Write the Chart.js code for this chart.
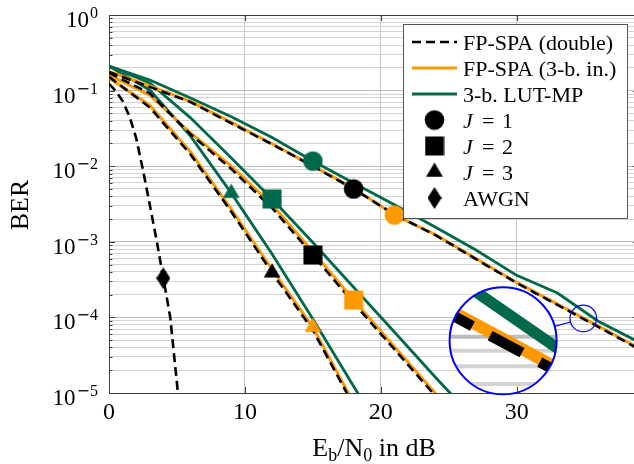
<!DOCTYPE html>
<html>
<head>
<meta charset="utf-8">
<script src="https://cdn.jsdelivr.net/npm/chart.js@4.4.1/dist/chart.umd.min.js"></script>
<style>
html, body { margin: 0; padding: 0; background: #fff; overflow: hidden; width: 634px; height: 464px; }
canvas { display: block; }
</style>
</head>
<body>
<canvas id="berChart" width="640" height="464"></canvas>
<script>
// Eb/N0 grid (dB) of the decoder curves and of the AWGN reference
var snr = [0, 3, 6, 9, 12, 15, 18, 21, 24, 27, 30, 33, 36, 39];
var snrAwgn = [0, 0.5, 1, 1.5, 2, 2.5, 3, 3.5, 4, 4.5, 5, 5.5];

// BER
var berDoubleJ1 = [0.176, 0.112, 0.0705, 0.037, 0.0195, 0.0100, 0.0050, 0.0023, 0.00123, 5.9e-4, 2.85e-4, 1.46e-4, 7.5e-5, 3.8e-5];
var berQuantJ1 = [0.179, 0.115, 0.072, 0.038, 0.0198, 0.0101, 0.0051, 0.00226, 0.00125, 6.0e-4, 2.9e-4, 1.5e-4, 7.7e-5, 3.9e-5];
var berLutJ1 = [0.211, 0.138, 0.080, 0.045, 0.0239, 0.0117, 0.0060, 0.0031, 0.00157, 7.8e-4, 3.6e-4, 2.1e-4, 8.9e-5, 4.7e-5];

var berDoubleJ2 = [0.172, 0.092, 0.0265, 0.0092, 0.0028, 6.7e-4, 1.55e-4, 3.8e-5, 9.2e-6, 2.2e-6];
var berQuantJ2 = [0.16, 0.087, 0.0275, 0.0100, 0.0031, 7.4e-4, 1.7e-4, 4.1e-5, 1.0e-5, 2.5e-6];
var berLutJ2 = [0.211, 0.126, 0.0436, 0.0128, 0.00368, 9.8e-4, 2.5e-4, 6.4e-5, 1.63e-5, 4.3e-6];

var berDoubleJ3 = [0.152, 0.060, 0.0143, 0.0025, 3.9e-4, 6.8e-5, 6.8e-6, 8e-7];
var berQuantJ3 = [0.147, 0.064, 0.0154, 0.0027, 4.3e-4, 7.4e-5, 7.4e-6, 9e-7];
var berLutJ3 = [0.211, 0.102, 0.025, 0.0044, 6.9e-4, 9.5e-5, 1.23e-5, 1.6e-6];

var berAwgn = [0.123, 0.099, 0.073, 0.046, 0.0236, 0.0089, 0.0031, 0.00105, 3.3e-4, 1.02e-4, 1.35e-5, 1.5e-6];

// index of the point that carries the marker on each curve
var markAt = { lutJ1: 5, doubleJ1: 6, quantJ1: 7, lutJ2: 4, doubleJ2: 5, quantJ2: 6, lutJ3: 3, doubleJ3: 4, quantJ3: 5, awgn: 8 };

var xTicks = [0, 10, 20, 30];
var yTickExponents = [0, -1, -2, -3, -4, -5];
var yTitle = 'BER';
var xTitleParts = [['E', false], ['b', true], ['/N', false], ['0', true], [' in dB', false]];
var legendLabels = ['FP-SPA (double)', 'FP-SPA (3-b. in.)', '3-b. LUT-MP', 'J = 1', 'J = 2', 'J = 3', 'AWGN'];

// magnifier: source spot and where the enlarged view goes (data coords)
var spySrc = { x: 34.9, y: 9.7e-5 };
var spyDst = { x: 29, y: 4.9e-5 };
var spySmallR = 13.3, spyBigR = 53.5;

var black = '#000000', orange = '#ff9900', green = '#00694b', spyBlue = '#0000ff';
var serif = '"Liberation Serif", "Times New Roman", serif';
var widths = { dashed: 2.6, orange: 3.0, green: 2.8 };
var dash = [9, 5];

function makeMarker(shape, color) {
    var c = document.createElement('canvas');
    var w = 20, h = 20;
    if (shape === 'diamond') { w = 14; h = 22; }
    if (shape === 'circle') { w = 21; h = 21; }
    c.width = w; c.height = h;
    var g = c.getContext('2d');
    g.fillStyle = color;
    g.beginPath();
    if (shape === 'circle') {
        g.arc(w / 2, h / 2, 9.8, 0, Math.PI * 2);
    } else if (shape === 'square') {
        g.rect(0.5, 0.5, 19, 19);
    } else if (shape === 'triangle') {
        g.moveTo(10, 0.4);
        g.lineTo(18.4, 14.8);
        g.lineTo(1.6, 14.8);
    } else {
        g.moveTo(7, 0);
        g.lineTo(14, 11);
        g.lineTo(7, 22);
        g.lineTo(0, 11);
    }
    g.closePath();
    g.fill();
    return c;
}

var markers = {};
['circle', 'square', 'triangle', 'diamond'].forEach(function (s) {
    markers[s] = { black: makeMarker(s, black), orange: makeMarker(s, orange), green: makeMarker(s, green) };
});

function toPoints(xs, ys) {
    return ys.map(function (y, i) { return { x: xs[i], y: y }; });
}

function lineSet(xs, ys, color, width, dashed, order) {
    return {
        data: toPoints(xs, ys),
        borderColor: color,
        borderWidth: width,
        borderDash: dashed ? dash : [],
        pointRadius: 0,
        tension: 0,
        fill: false,
        order: order
    };
}

function markerSet(xs, ys, idx, marker) {
    return {
        data: toPoints(xs, ys),
        showLine: false,
        pointStyle: marker,
        pointRadius: function (ctx) { return ctx.dataIndex === idx ? 10 : 0; },
        order: 0
    };
}

var datasets = [
    markerSet(snr, berLutJ1, markAt.lutJ1, markers.circle.green),
    markerSet(snr, berDoubleJ1, markAt.doubleJ1, markers.circle.black),
    markerSet(snr, berQuantJ1, markAt.quantJ1, markers.circle.orange),
    markerSet(snr, berLutJ2, markAt.lutJ2, markers.square.green),
    markerSet(snr, berDoubleJ2, markAt.doubleJ2, markers.square.black),
    markerSet(snr, berQuantJ2, markAt.quantJ2, markers.square.orange),
    markerSet(snr, berLutJ3, markAt.lutJ3, markers.triangle.green),
    markerSet(snr, berDoubleJ3, markAt.doubleJ3, markers.triangle.black),
    markerSet(snr, berQuantJ3, markAt.quantJ3, markers.triangle.orange),
    markerSet(snrAwgn, berAwgn, markAt.awgn, markers.diamond.black),
    lineSet(snr, berDoubleJ1, black, widths.dashed, true, 1),
    lineSet(snr, berDoubleJ2, black, widths.dashed, true, 1),
    lineSet(snr, berDoubleJ3, black, widths.dashed, true, 1),
    lineSet(snrAwgn, berAwgn, black, widths.dashed, true, 1),
    lineSet(snr, berQuantJ1, orange, widths.orange, false, 2),
    lineSet(snr, berQuantJ2, orange, widths.orange, false, 2),
    lineSet(snr, berQuantJ3, orange, widths.orange, false, 2),
    lineSet(snr, berLutJ1, green, widths.green, false, 3),
    lineSet(snr, berLutJ2, green, widths.green, false, 3),
    lineSet(snr, berLutJ3, green, widths.green, false, 3)
];

var yGrid = [];
for (var e = -5; e < 0; e++) {
    for (var m = 1; m < 10; m++) {
        yGrid.push(m * Math.pow(10, e));
    }
}
yGrid.push(1);

function isDecade(v) {
    var l = Math.log10(v);
    return Math.abs(l - Math.round(l)) < 1e-9;
}

function gridColor(major) {
    return major ? '#bdbdbd' : '#d3d3d3';
}

function drawMagnifier(chart) {
    var ctx = chart.ctx, xs = chart.scales.x, ys = chart.scales.y;
    var sx = xs.getPixelForValue(spySrc.x), sy = ys.getPixelForValue(spySrc.y);
    var bx = xs.getPixelForValue(spyDst.x), by = ys.getPixelForValue(spyDst.y);
    var k = spyBigR / spySmallR;
    ctx.save();
    ctx.beginPath();
    ctx.arc(bx, by, spyBigR, 0, Math.PI * 2);
    ctx.fillStyle = '#fff';
    ctx.fill();
    ctx.clip();
    ctx.translate(bx, by);
    ctx.scale(k, k);
    ctx.translate(-sx, -sy);
    ctx.lineWidth = 1;
    yGrid.forEach(function (v) {
        var py = ys.getPixelForValue(v);
        ctx.strokeStyle = gridColor(isDecade(v));
        ctx.beginPath();
        ctx.moveTo(sx - 20, py);
        ctx.lineTo(sx + 20, py);
        ctx.stroke();
    });
    var metas = chart.getSortedVisibleDatasetMetas();
    for (var i = metas.length - 1; i >= 0; i--) {
        var ds = chart.data.datasets[metas[i].index];
        if (ds.showLine === false) continue;
        ctx.strokeStyle = ds.borderColor;
        ctx.lineWidth = ds.borderWidth;
        ctx.setLineDash(ds.borderDash);
        ctx.beginPath();
        metas[i].data.forEach(function (p, j) {
            if (j === 0) ctx.moveTo(p.x, p.y); else ctx.lineTo(p.x, p.y);
        });
        ctx.stroke();
    }
    ctx.restore();

    ctx.save();
    ctx.strokeStyle = spyBlue;
    ctx.lineWidth = 2;
    ctx.beginPath();
    ctx.arc(bx, by, spyBigR, 0, Math.PI * 2);
    ctx.stroke();
    ctx.lineWidth = 1.2;
    ctx.beginPath();
    ctx.arc(sx, sy, spySmallR, 0, Math.PI * 2);
    ctx.stroke();
    var dx = sx - bx, dy = sy - by, d = Math.sqrt(dx * dx + dy * dy);
    ctx.beginPath();
    ctx.moveTo(bx + dx / d * spyBigR, by + dy / d * spyBigR);
    ctx.lineTo(sx - dx / d * spySmallR, sy - dy / d * spySmallR);
    ctx.stroke();
    ctx.restore();
}

function drawPowerLabel(ctx, exp, rightX, py) {
    var supText = exp === 0 ? '0' : String(-exp);
    ctx.font = '23px ' + serif;
    var wBase = ctx.measureText('10').width;
    var wMinus = 0;
    if (exp < 0) {
        ctx.font = '16px "DejaVu Sans"';
        wMinus = ctx.measureText('\u2212').width;
    }
    ctx.font = '16px ' + serif;
    var wSup = ctx.measureText(supText).width;
    var x = rightX - wBase - 1 - wMinus - wSup;
    ctx.font = '23px ' + serif;
    ctx.fillText('10', x, py + 12);
    x += wBase + 1;
    if (exp < 0) {
        ctx.font = '16px "DejaVu Sans"';
        ctx.fillText('\u2212', x, py + 3);
        x += wMinus;
    }
    ctx.font = '16px ' + serif;
    ctx.fillText(supText, x, py + 3);
}

function drawLegend(ctx) {
    var left = 403.5, top = 24.5, w = 224, h = 194;
    ctx.save();
    ctx.fillStyle = '#fff';
    ctx.fillRect(left, top, w, h);
    ctx.strokeStyle = '#555';
    ctx.lineWidth = 1;
    ctx.strokeRect(left, top, w, h);
    var lineStyles = [[black, widths.dashed, true], [orange, widths.orange, false], [green, widths.green, false]];
    var shapes = ['circle', 'square', 'triangle', 'diamond'];
    legendLabels.forEach(function (label, i) {
        var ry = 42 + i * 26;
        if (i < 3) {
            ctx.strokeStyle = lineStyles[i][0];
            ctx.lineWidth = lineStyles[i][1];
            ctx.setLineDash(lineStyles[i][2] ? dash : []);
            ctx.beginPath();
            ctx.moveTo(412, ry);
            ctx.lineTo(457, ry);
            ctx.stroke();
            ctx.setLineDash([]);
        } else {
            var mk = markers[shapes[i - 3]].black;
            ctx.drawImage(mk, 434.5 - mk.width / 2, ry - mk.height / 2);
        }
        ctx.fillStyle = '#000';
        ctx.textAlign = 'left';
        ctx.textBaseline = 'alphabetic';
        var parts = label.split(' ');
        if (parts[0] === 'J') {
            ctx.font = 'italic 22px ' + serif;
            ctx.fillText(parts[0], 463, ry + 7.5);
            ctx.font = '22px ' + serif;
            ctx.fillText(parts[1], 482, ry + 7.5);
            ctx.fillText(parts[2], 502, ry + 7.5);
        } else {
            ctx.font = '22px ' + serif;
            ctx.fillText(label, 463, ry + 7.5);
        }
    });
    ctx.restore();
}

var berDecor = {
    id: 'berDecor',
    beforeDraw: function (chart) {
        var ctx = chart.ctx;
        ctx.save();
        ctx.fillStyle = '#fff';
        ctx.fillRect(0, 0, chart.width, chart.height);
        ctx.restore();
    },
    afterDatasetsDraw: function (chart) {
        drawMagnifier(chart);
    },
    afterDraw: function (chart) {
        var ctx = chart.ctx, a = chart.chartArea, xs = chart.scales.x, ys = chart.scales.y;
        ctx.save();
        ctx.strokeStyle = '#404040';
        ctx.lineWidth = 1;
        ctx.beginPath();
        ctx.moveTo(a.left, a.top + 0.5);
        ctx.lineTo(a.right, a.top + 0.5);
        ctx.moveTo(a.right - 0.5, a.top);
        ctx.lineTo(a.right - 0.5, a.bottom);
        yGrid.forEach(function (v) {
            var py = Math.round(ys.getPixelForValue(v)) + 0.5;
            var len = isDecade(v) ? 6 : 3.5;
            ctx.moveTo(a.left, py);
            ctx.lineTo(a.left + len, py);
            ctx.moveTo(a.right, py);
            ctx.lineTo(a.right - len, py);
        });
        xTicks.forEach(function (v) {
            var px = Math.round(xs.getPixelForValue(v)) + 0.5;
            ctx.moveTo(px, a.bottom);
            ctx.lineTo(px, a.bottom - 6);
            ctx.moveTo(px, a.top);
            ctx.lineTo(px, a.top + 6);
        });
        ctx.stroke();

        ctx.fillStyle = '#000';
        ctx.textAlign = 'left';
        ctx.textBaseline = 'alphabetic';
        yTickExponents.forEach(function (ex) {
            drawPowerLabel(ctx, ex, 98, ys.getPixelForValue(Math.pow(10, ex)));
        });

        // y title
        ctx.save();
        ctx.translate(28, 205);
        ctx.rotate(-Math.PI / 2);
        ctx.textAlign = 'center';
        ctx.font = '26px ' + serif;
        ctx.fillText(yTitle, 0, 0);
        ctx.restore();

        // x title with subscripts
        var total = 0;
        xTitleParts.forEach(function (p) {
            ctx.font = (p[1] ? '18px ' : '26px ') + serif;
            total += ctx.measureText(p[0]).width;
        });
        var tx = (a.left + a.right) / 2 - total / 2;
        xTitleParts.forEach(function (p) {
            ctx.font = (p[1] ? '18px ' : '26px ') + serif;
            ctx.fillText(p[0], tx, 456 + (p[1] ? 5 : 0));
            tx += ctx.measureText(p[0]).width;
        });
        ctx.restore();

        drawLegend(ctx);
    }
};

var berCanvas = document.getElementById('berChart').getContext('2d');
var berChart = new Chart(berCanvas, {
    type: 'line',
    data: { datasets: datasets },
    options: {
        responsive: false,
        animation: false,
        devicePixelRatio: 1,
        events: [],
        layout: { padding: { top: 15, right: 1, left: 0, bottom: 0 } },
        plugins: {
            legend: { display: false },
            tooltip: { enabled: false }
        },
        scales: {
            x: {
                type: 'linear',
                min: 0,
                max: 39,
                afterBuildTicks: function (scale) {
                    scale.ticks = xTicks.map(function (v) { return { value: v }; });
                },
                afterFit: function (scale) { scale.height = 71; },
                ticks: {
                    font: { family: serif, size: 24 },
                    color: '#000',
                    padding: 5,
                    maxRotation: 0,
                    autoSkip: false
                },
                grid: { color: '#c6c6c6', drawTicks: false },
                border: { color: '#404040', width: 1 }
            },
            y: {
                type: 'logarithmic',
                min: 1e-5,
                max: 1,
                afterBuildTicks: function (scale) {
                    scale.ticks = yGrid.map(function (v) { return { value: v, major: isDecade(v) }; });
                },
                afterFit: function (scale) { scale.width = 109; },
                ticks: { display: false, autoSkip: false },
                grid: {
                    drawTicks: false,
                    color: function (ctx) { return gridColor(ctx.tick && isDecade(ctx.tick.value)); }
                },
                border: { color: '#404040', width: 1 }
            }
        }
    },
    plugins: [berDecor]
});
</script>
</body>
</html>
